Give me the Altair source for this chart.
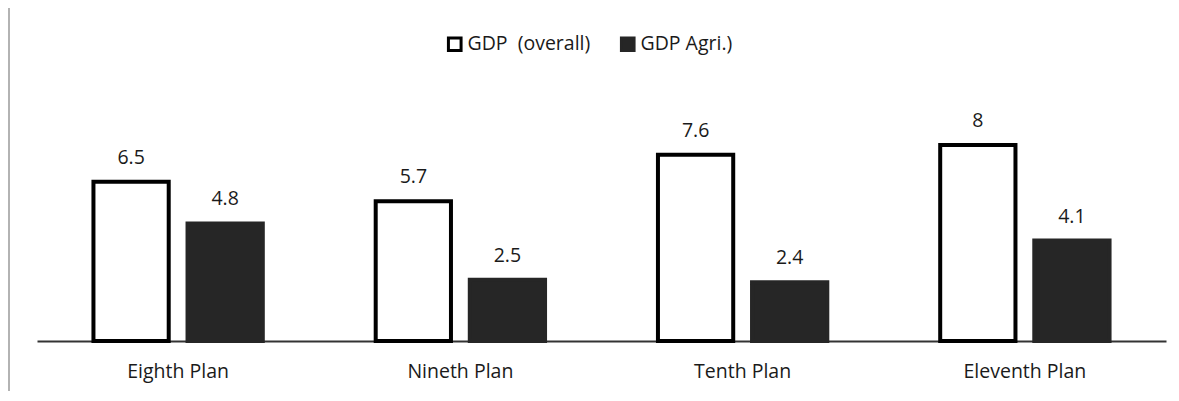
import altair as alt
import pandas as pd

plans = ["Eighth Plan", "Nineth Plan", "Tenth Plan", "Eleventh Plan"]
series = ["GDP \u00a0(overall)", "GDP Agri.)"]
gdp_overall = [6.5, 5.7, 7.6, 8]
gdp_agri = [4.8, 2.5, 2.4, 4.1]

rows = []
for i, p in enumerate(plans):
    rows.append({"plan": p, "series": series[0], "value": gdp_overall[i], "label": f"{gdp_overall[i]:g}"})
    rows.append({"plan": p, "series": series[1], "value": gdp_agri[i], "label": f"{gdp_agri[i]:g}"})
df = pd.DataFrame(rows)

FONT = "Open Sans"
FS = 19.5
FW = 500

x = alt.X("plan:N", sort=plans, title=None,
          scale=alt.Scale(paddingInner=0.4, paddingOuter=0.2),
          axis=alt.Axis(labelAngle=0, labelFontSize=FS, labelFont=FONT, labelFontWeight=FW,
                        labelColor="#1a1a1a",
                        ticks=False, domainColor="#333", domainWidth=2, labelPadding=21))
xo = alt.XOffset("series:N", sort=series, scale=alt.Scale(paddingInner=0.2))
y = alt.Y("value:Q", scale=alt.Scale(domain=[0, 10]), axis=None)

bars = alt.Chart(df).mark_bar(strokeWidth=4).encode(
    x=x, xOffset=xo, y=y,
    fill=alt.Fill("series:N", sort=series,
                  scale=alt.Scale(domain=series, range=["white", "#262626"]),
                  legend=alt.Legend(title=None, orient="none", legendX=408, legendY=-62,
                                    direction="horizontal", symbolType="square",
                                    symbolSize=160, symbolStrokeWidth=3,
                                    labelFont=FONT, labelFontSize=FS, labelFontWeight=FW,
                                    labelColor="#1a1a1a",
                                    labelOffset=3, columnPadding=24)),
    stroke=alt.Stroke("series:N", sort=series,
                      scale=alt.Scale(domain=series, range=["black", "#262626"]),
                      legend=None),
)

labels = alt.Chart(df).mark_text(baseline="bottom", dy=-14, fontSize=FS, font=FONT,
                                 fontWeight=FW, color="#1a1a1a").encode(
    x=x, xOffset=xo, y=y, text="label:N"
)

edge = alt.Chart(pd.DataFrame({"a": [0]})).mark_rule(color="#9a9a9a", strokeWidth=1.5).encode(
    x=alt.value(-28), y=alt.value(-88), y2=alt.value(300)
)

chart = alt.layer(bars, labels, edge).properties(
    width=1129, height=245,
    autosize=alt.AutoSizeParams(type="none"),
    padding={"left": 29, "top": 88, "right": 5, "bottom": 50},
    background="white",
).configure_view(stroke=None)

chart.save("out.html", embed_options={"renderer": "svg", "actions": False})
